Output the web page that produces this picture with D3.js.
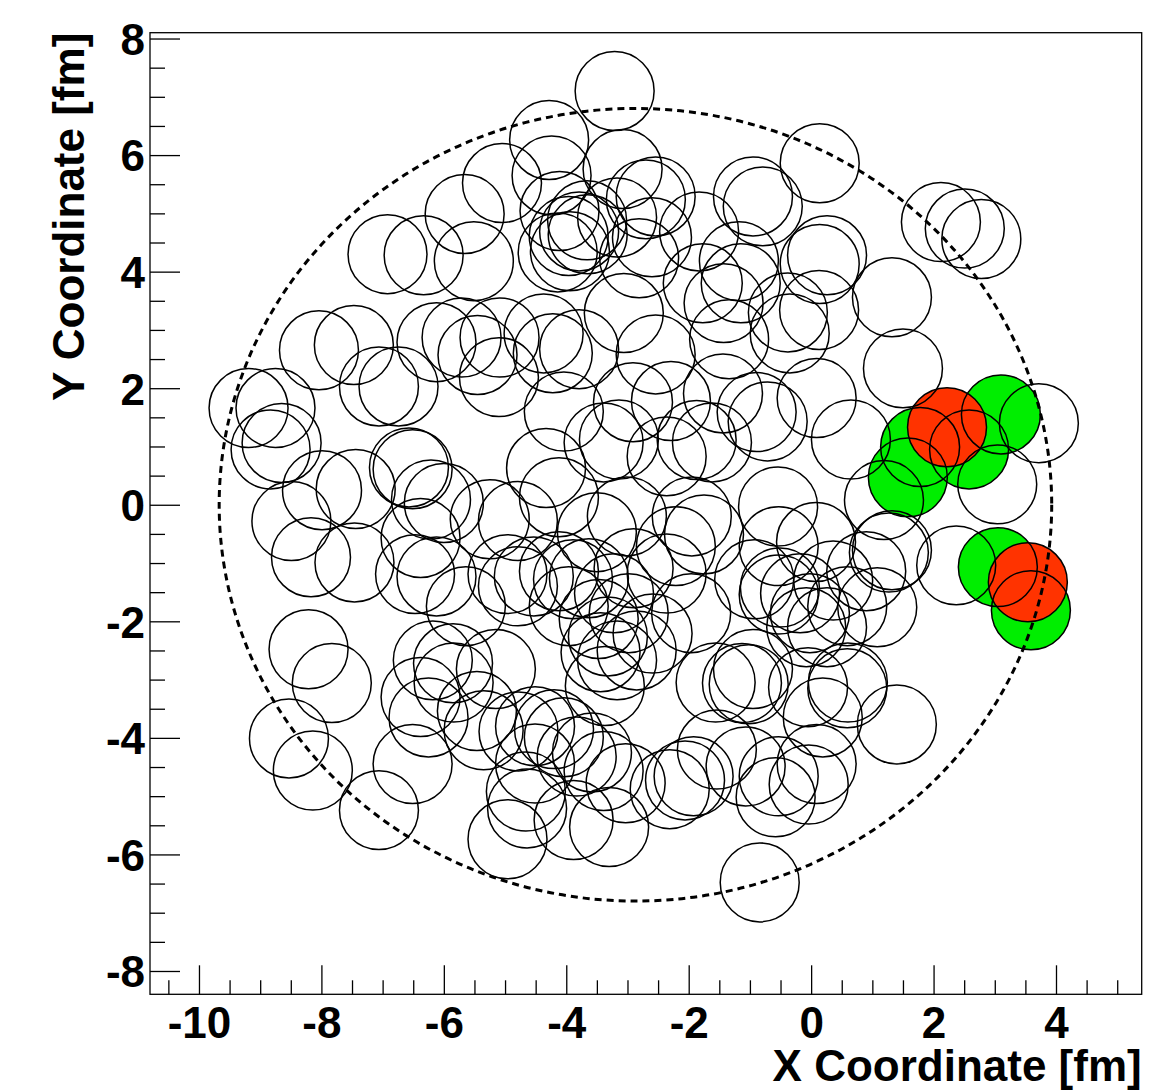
<!DOCTYPE html>
<html>
<head>
<meta charset="utf-8">
<script src="https://cdn.jsdelivr.net/npm/d3@7/dist/d3.min.js"></script>
<style>
  body { margin: 0; background: #fff; }
  svg text { font-family: "Liberation Sans", Arial, Helvetica, sans-serif; font-weight: bold; }
</style>
</head>
<body>
<div id="chart-area"></div>
<script>

// nucleon centres [x, y] in fm
var openNucleons = [
  [-3.21,7.10],[-4.28,6.26],[-4.24,5.65],[-3.08,5.76],[-5.05,5.52],[-5.66,4.99],[-5.51,4.18],
  [-6.92,4.30],[-6.33,4.28],[-4.11,5.04],[-3.66,4.88],[-3.79,4.69],[-4.14,4.33],[-3.94,4.35],
  [-3.17,4.93],[-2.70,5.24],[-2.54,5.29],[-2.81,4.23],[-1.83,4.69],[-0.95,5.29],[-0.79,5.12],
  [-1.77,3.80],[-1.18,4.18],[0.14,5.86],[0.26,4.28],[0.14,4.13],[1.32,3.56],[2.12,4.85],
  [2.51,4.74],[2.78,4.56],[-3.96,4.61],[-3.65,4.64],[-2.60,4.59],[-1.15,3.80],
  [-8.04,2.65],[-7.47,2.74],[-6.12,2.79],[-5.71,2.87],[-5.45,2.57],[-5.10,2.19],[-7.06,2.03],
  [-6.74,2.03],[-9.19,1.66],[-8.75,1.66],[-8.83,0.95],[-8.65,1.06],[-3.06,3.29],[-5.09,2.87],
  [-4.37,2.94],[-4.22,2.60],[-3.79,2.67],[-2.54,2.58],[-1.43,3.46],[-1.34,2.84],[-0.35,2.94],
  [-0.38,3.30],[0.13,3.34],[1.50,2.34],[-4.04,1.60],[-2.91,1.76],[-2.29,1.78],[-1.44,1.91],
  [-0.89,1.59],[-0.71,1.43],[0.09,1.83],
  [-7.99,0.25],[-7.44,0.27],[-8.49,-0.28],[-8.17,-0.90],[-7.46,-0.99],[-6.57,0.64],[-6.51,0.61],
  [-6.21,0.09],[-6.00,0.03],[-6.38,-0.57],[-6.47,-1.19],[-6.12,-1.23],[-5.25,-0.25],[-4.79,-0.28],
  [-4.96,-1.19],[-4.79,-1.40],[-4.33,0.63],[-3.39,1.07],[-3.14,1.12],[-2.36,0.83],[-1.87,1.11],
  [-1.62,1.07],[-4.12,0.13],[-3.01,-0.20],[-3.50,-0.47],[-1.95,-0.20],[-1.75,-0.51],[-0.54,-0.03],
  [-0.53,-0.71],[-4.53,-1.23],[-4.12,-1.14],[-3.89,-1.28],[-3.63,-1.26],[-3.22,-1.52],[-2.98,-1.86],
  [-2.90,-1.09],[-2.36,-1.18],[-2.21,-0.71],[-1.96,-1.86],[-0.93,-1.28],[-0.53,-1.54],[-3.47,-1.96],
  [-3.32,-2.26],[-3.96,-1.74],[-2.59,-2.21],[0.65,1.12],[1.19,0.08],[1.27,-0.82],[1.32,-0.78],
  [0.90,-1.14],[1.08,-1.76],[0.08,-0.64],[0.36,-1.30],[-0.51,-1.42],[-0.18,-1.52],[-0.02,-1.86],
  [0.26,-2.10],[2.37,-1.04],[3.04,0.35],[3.72,1.40],
  [-5.64,-1.74],[-6.18,-2.67],[-5.85,-2.72],[-5.15,-2.82],[-8.21,-2.48],[-7.83,-3.06],[-8.53,-4.01],
  [-8.14,-4.56],[-7.06,-5.24],[-6.51,-4.45],[-6.38,-3.30],[-6.25,-3.65],[-5.84,-3.05],[-5.46,-3.54],
  [-5.35,-3.87],[-4.78,-3.89],[-4.64,-5.21],[-4.96,-5.74],[-4.51,-4.44],[-4.51,-3.80],[-4.20,-3.85],
  [-4.04,-3.99],[-3.83,-4.32],[-3.58,-4.25],[-4.66,-4.92],[-3.88,-5.41],[-3.30,-5.53],[-3.39,-4.57],
  [-3.03,-4.78],[-2.31,-4.88],[-2.06,-4.73],[-1.92,-4.66],[-1.54,-4.20],[-1.07,-4.49],[-1.56,-3.05],
  [-1.13,-3.06],[-1.02,-3.08],[-0.58,-5.02],[-0.84,-6.48],[-3.44,-2.53],[-3.17,-2.67],[-2.85,-2.50],
  [-3.37,-3.11],[-0.05,-3.13],[0.60,-3.05],[0.59,-3.15],[1.40,-3.77],[0.19,-3.65],[0.09,-4.45],
  [-0.04,-4.80],[-0.53,-4.66],[-0.95,-2.82],[-0.08,-2.10],[0.59,-1.74]
];
var greenNucleons = [[1.78,0.99],[1.58,0.47],[2.58,0.95],[3.10,1.55],[3.05,-1.07],[3.59,-1.81]];
var redNucleons = [[2.22,1.33],[3.54,-1.33]];

var nucleonRadius = 0.645;              // fm
var nucleusCentre = [-2.87, 0], nucleusRadius = 6.8;

var xMajor = [-10, -8, -6, -4, -2, 0, 2, 4];
var yMajor = [-8, -6, -4, -2, 0, 2, 4, 6, 8];
var xTitle = "X Coordinate [fm]", yTitle = "Y Coordinate [fm]";

var W = 1171, H = 1092;
var frame = {left: 150, right: 1141.7, top: 32.7, bottom: 994.3};

var svg = d3.select("#chart-area")
    .append("svg")
        .attr("width", W)
        .attr("height", H);

var x = d3.scaleLinear().domain([-10.8, 5.4]).range([frame.left, frame.right]);
var y = d3.scaleLinear().domain([-8.4, 8.1]).range([frame.bottom, frame.top]);

var rPx = x(nucleonRadius) - x(0);

// fills first (green, then red), outlines later
var fills = svg.append("g");
fills.selectAll("circle.g").data(greenNucleons).enter().append("circle")
    .attr("cx", function(d){ return x(d[0]); })
    .attr("cy", function(d){ return y(d[1]); })
    .attr("r", rPx)
    .attr("fill", "#00ee00");
fills.selectAll("circle.r").data(redNucleons).enter().append("circle")
    .attr("cx", function(d){ return x(d[0]); })
    .attr("cy", function(d){ return y(d[1]); })
    .attr("r", rPx)
    .attr("fill", "#ff3300");

var outlines = svg.append("g");
outlines.selectAll("circle")
    .data(openNucleons.concat(greenNucleons, redNucleons))
    .enter().append("circle")
    .attr("cx", function(d){ return x(d[0]); })
    .attr("cy", function(d){ return y(d[1]); })
    .attr("r", rPx)
    .attr("fill", "none")
    .attr("stroke", "#000")
    .attr("stroke-width", 1.5);

// nucleus boundary
svg.append("ellipse")
    .attr("cx", x(nucleusCentre[0]))
    .attr("cy", y(nucleusCentre[1]))
    .attr("rx", x(nucleusRadius) - x(0))
    .attr("ry", y(0) - y(nucleusRadius))
    .attr("fill", "none")
    .attr("stroke", "#000")
    .attr("stroke-width", 3)
    .attr("stroke-dasharray", "7,5");

// axes (ticks point inwards)
var xMinor = d3.range(-10.5, 5.4, 0.5).filter(function(v){ return v % 2 !== 0; });
var yMinor = d3.range(-8, 8.1, 0.5).filter(function(v){ return v % 2 !== 0; });

var xAxisEl = svg.append("g").attr("transform", "translate(0," + frame.bottom + ")");
xAxisEl.append("g").call(d3.axisBottom(x).tickValues(xMinor).tickSize(-14).tickFormat(""));
xAxisEl.append("g").call(d3.axisBottom(x).tickValues(xMajor).tickSize(-29).tickPadding(12)
    .tickFormat(function(d){ return String(d); }));

var yAxisEl = svg.append("g").attr("transform", "translate(" + frame.left + ",0)");
yAxisEl.append("g").call(d3.axisLeft(y).tickValues(yMinor).tickSize(-15).tickFormat(""));
yAxisEl.append("g").call(d3.axisLeft(y).tickValues(yMajor).tickSize(-30).tickPadding(5)
    .tickFormat(function(d){ return String(d); }));

svg.selectAll(".domain").remove();
svg.selectAll(".tick line").attr("stroke", "#000").attr("stroke-width", 1.3);
svg.selectAll(".tick text").attr("font-size", 44).attr("fill", "#000")
    .style("font-family", "'Liberation Sans', Arial, sans-serif").style("font-weight", "bold");
yAxisEl.selectAll(".tick text").attr("dy", "0.36em");

svg.append("rect")
    .attr("x", frame.left).attr("y", frame.top)
    .attr("width", frame.right - frame.left)
    .attr("height", frame.bottom - frame.top)
    .attr("fill", "none").attr("stroke", "#000").attr("stroke-width", 1.3);

svg.append("text")
    .attr("x", frame.right).attr("y", 1081)
    .attr("text-anchor", "end")
    .attr("font-size", 44)
    .text(xTitle);

svg.append("text")
    .attr("transform", "translate(84," + frame.top + ") rotate(-90)")
    .attr("text-anchor", "end")
    .attr("font-size", 44)
    .text(yTitle);

</script>
</body>
</html>
